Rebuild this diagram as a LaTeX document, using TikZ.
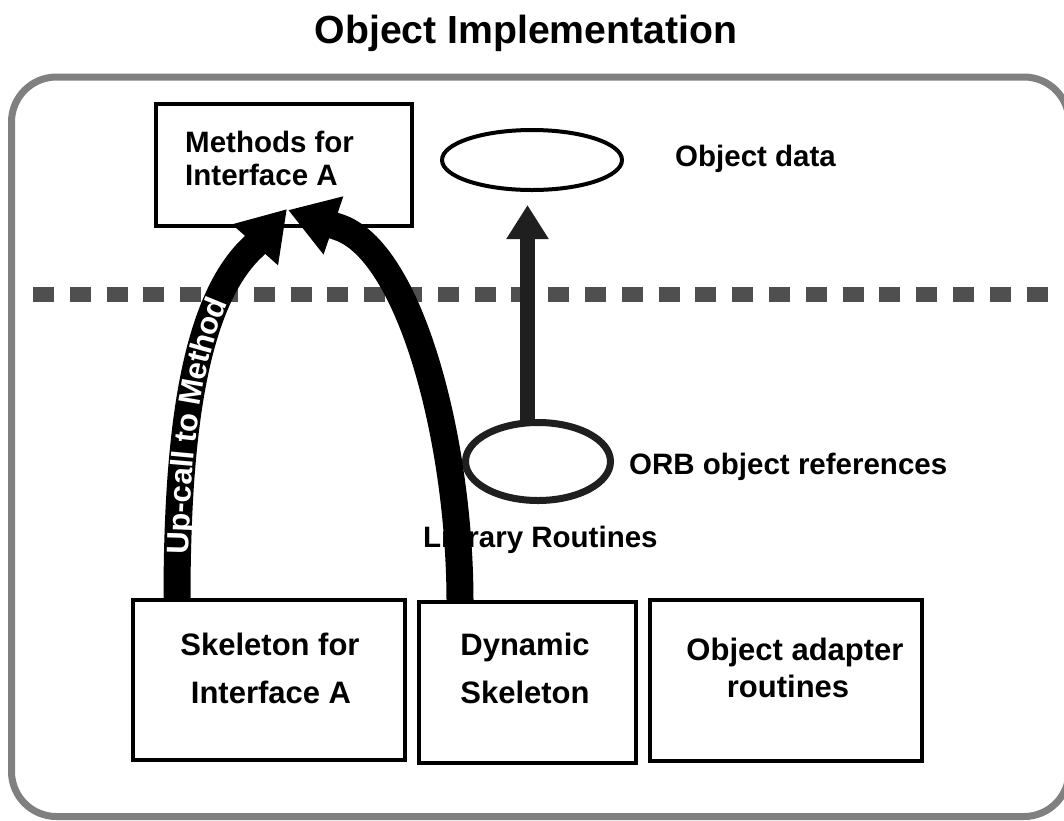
\documentclass[tikz,border=0pt]{standalone}
\usepackage{fontspec}
\setmainfont{Liberation Sans}
\usetikzlibrary{arrows.meta,decorations.text,calc,shapes.geometric}
\begin{document}
\begin{tikzpicture}[x=1pt,y=-1pt,
  lab/.style={font=\bfseries\fontsize{29.5}{33}\selectfont, inner sep=0pt},
  blab/.style={font=\bfseries\fontsize{31}{36}\selectfont, inner sep=0pt, anchor=base},
  box/.style={draw, line width=4pt, inner sep=0pt, outer sep=0pt},
  oval/.style={draw, ellipse, inner sep=0pt, outer sep=0pt},
  bigarrow/.style={line width=27pt, -{Triangle[length=48pt,width=58pt]}},
]
\useasboundingbox (0,0) rectangle (1064,820);
\fill[white] (0,0) rectangle (1064,820);
% outer frame
\draw[line width=7pt, color=black!50, rounded corners=45pt] (11.5,77) rectangle (1069,816.5);
% title
\node[lab, anchor=base, font=\bfseries\fontsize{39.2}{44}\selectfont] (title) at (526,43) {Object Implementation};
% dashed divider
\draw[line width=15pt, color=black!69, dash pattern=on 21pt off 15.8pt] (33,294) -- (1048,294);
% boxes
\node[box, minimum width=256pt, minimum height=122pt] (meth) at (284,165) {};
\node[lab, anchor=base west] (meth1) at (185,152) {Methods for};
\node[lab, anchor=base west] (meth2) at (185,185) {Interface A};
\node[box, minimum width=272.5pt, minimum height=160pt] (skel) at (268.75,680) {};
\node[blab] (skel1) at (270,655) {Skeleton for};
\node[blab] (skel2) at (271,703) {Interface A};
\node[box, minimum width=217pt, minimum height=161pt] (dyn) at (527.5,682.5) {};
\node[blab] (dyn1) at (525,655) {Dynamic};
\node[blab] (dyn2) at (525,703) {Skeleton};
\node[box, minimum width=272.5pt, minimum height=161pt] (oad) at (785.75,680.5) {};
\node[blab] (oad1) at (795,660) {Object adapter};
\node[blab] (oad2) at (788,697) {routines};
% ellipses
\node[oval, line width=4pt, minimum width=180pt, minimum height=60pt] (odata) at (532,160) {};
\node[lab, anchor=base west] (odatat) at (675,166) {Object data};
\node[oval, draw=black!88, line width=7pt, minimum width=145pt, minimum height=78pt] (orb) at (538,461.5) {};
\node[lab, anchor=base west] (orbt) at (629,474) {ORB object references};
\node[lab, anchor=base west] (libt) at (423,547) {Library Routines};
% vertical arrow
\draw[line width=15pt, color=black!88, -{Triangle[length=34pt,width=40pt]}]
  ($(orb.north)+(-10.5,0.5)$) -- ($(odata.south)+(-4.5,15)$);
% big arrows
\draw[bigarrow] ($(skel.north west)+(44.5,0)$) .. controls +(0,-170) and +(-59,54) .. (254,246)
  -- ($(meth.south west)+(131,-17)$);
\draw[bigarrow] ($(dyn.north west)+(41,0)$) .. controls +(0,-162) and +(72,23) .. (338,227)
  -- ($(meth.south west)+(132,-16)$);
% label along the up-call arrow
\path[decorate, decoration={text along path,
    text={|\bfseries\fontsize{31}{31}\selectfont|Up-call to Method},
    text color=white, text align={left indent=46pt}, raise=-11.1pt}]
  ($(skel.north west)+(44.5,0)$) .. controls +(0,-170) and +(-59,54) .. (254,246);
\end{tikzpicture}
\end{document}
